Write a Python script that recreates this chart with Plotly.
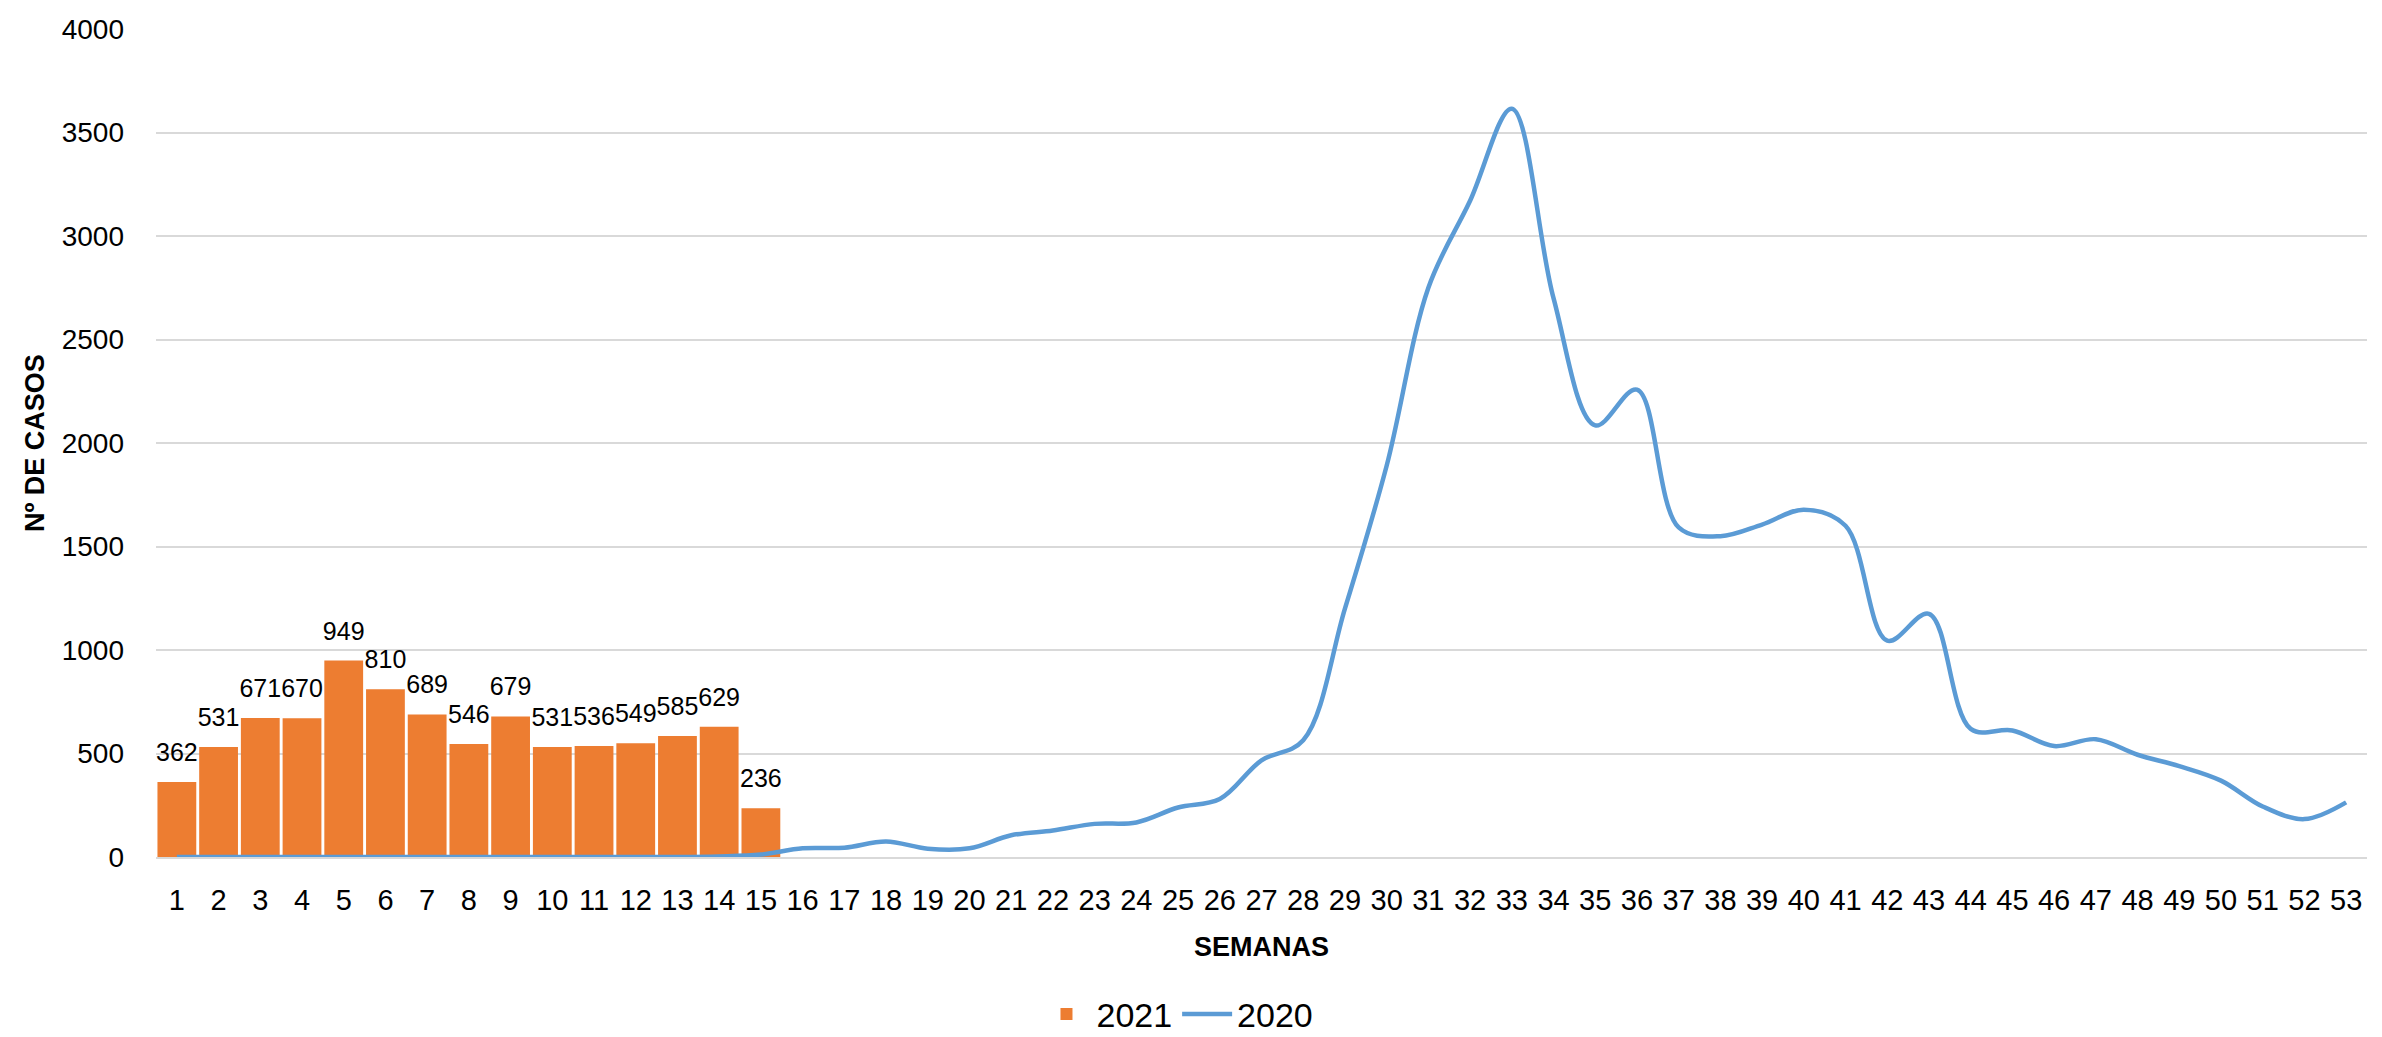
import plotly.graph_objects as go

weeks = list(range(1, 54))
weeks_2021 = list(range(1, 16))
cases_2021 = [362, 531, 671, 670, 949, 810, 689, 546, 679, 531, 536, 549, 585, 629, 236]
cases_2020 = [0, 0, 0, 0, 0, 0, 0, 0, 0, 0, 0, 0, 0, 3, 12,
              42, 45, 75, 40, 42, 105, 128, 160, 167, 239, 280, 467, 564, 1200, 1890,
              2750, 3170, 3615, 2700, 2085, 2258, 1592, 1550, 1606, 1678, 1600, 1045, 1175, 619,
              611, 536, 569, 494, 439, 369, 244, 183, 264]
y_ticks = list(range(0, 4001, 500))

FONT = "Liberation Sans, Arial, sans-serif"

fig = go.Figure()
fig.add_trace(go.Bar(
    x=weeks_2021, y=cases_2021, name="2021",
    marker=dict(color="#ED7D31", line=dict(width=0)),
))
fig.add_trace(go.Scatter(
    x=weeks, y=cases_2020, name="2020", mode="lines",
    line=dict(color="#5B9BD5", width=4.5, shape="spline", smoothing=1.0),
))
# data labels of the 2021 bars
fig.add_trace(go.Scatter(
    x=weeks_2021, y=cases_2021, mode="markers+text", showlegend=False, hoverinfo="skip",
    marker=dict(size=22, opacity=0),
    text=[str(v) for v in cases_2021], textposition="top center",
    textfont=dict(family=FONT, size=25, color="#000000"), cliponaxis=False,
))

fig.update_layout(
    width=2382, height=1037,
    margin=dict(l=148, r=23, t=21, b=188, autoexpand=False),
    paper_bgcolor="white", plot_bgcolor="white",
    bargap=0.07,
    font=dict(family=FONT, size=28, color="#000000"),
    showlegend=True,
    legend=dict(orientation="h", x=0.462, y=-0.19, xanchor="center", yanchor="middle",
                font=dict(family=FONT, size=34, color="#000000"),
                itemwidth=50, tracegroupgap=0),
    annotations=[
        dict(text="<b>SEMANAS</b>", xref="paper", yref="paper", x=0.5, y=-0.1087,
             xanchor="center", yanchor="middle", showarrow=False,
             font=dict(family=FONT, size=27, color="#000000")),
        dict(text="<b>Nº DE CASOS</b>", xref="paper", yref="paper", x=-0.0547, y=0.5,
             xanchor="center", yanchor="middle", showarrow=False, textangle=-90,
             font=dict(family=FONT, size=27, color="#000000")),
    ],
)
fig.update_xaxes(
    range=[0.5, 53.5], tickmode="array", tickvals=weeks, ticktext=[str(w) for w in weeks],
    showgrid=False, zeroline=False, showline=True, linecolor="#D9D9D9", linewidth=1.5,
    ticks="", ticklabelstandoff=16, tickfont=dict(family=FONT, size=29),
)
fig.update_yaxes(
    range=[0, 4000], tickmode="array", tickvals=y_ticks, ticktext=[str(v) for v in y_ticks],
    showgrid=True, gridcolor="#D9D9D9", gridwidth=1.5, zeroline=False, showline=False,
    ticks="", ticklabelstandoff=31, tickfont=dict(family=FONT, size=28),
)

fig.write_html("out.html")
